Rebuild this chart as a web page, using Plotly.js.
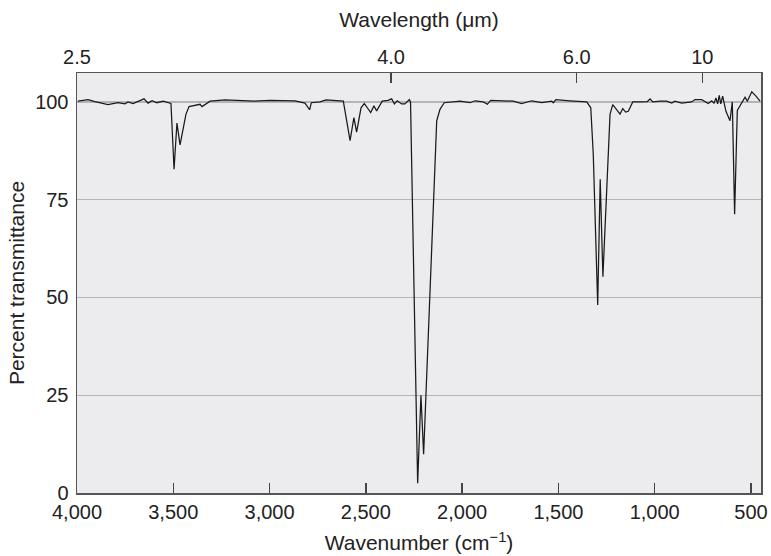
<!DOCTYPE html>
<html>
<head>
<meta charset="utf-8">
<script src="https://cdn.plot.ly/plotly-3.0.1.min.js"></script>
<style>
  html, body { margin: 0; padding: 0; background: #ffffff; }
  #chart { width: 771px; height: 556px; }
</style>
</head>
<body>
<div id="chart"></div>
<script>
// IR spectrum: wavenumber (cm^-1) vs percent transmittance
const wavenumber = [
  3995, 3943, 3907, 3839, 3787, 3751, 3735, 3709, 3652, 3631, 3610, 3585, 3553, 3517, 3512,
  3496, 3481, 3465, 3444, 3434, 3418, 3382, 3361, 3351, 3309, 3231, 3128, 3081, 2998, 2868,
  2816, 2792, 2783, 2738, 2707, 2617, 2582, 2562, 2548, 2525, 2508, 2475, 2458, 2444, 2415,
  2385, 2366, 2352, 2337, 2314, 2297, 2274, 2268, 2231, 2214, 2200, 2132, 2115, 2093, 2063,
  2011, 1959, 1933, 1890, 1869, 1852, 1786, 1734, 1691, 1639, 1587, 1535, 1527, 1513, 1440,
  1353, 1332, 1319, 1296, 1283, 1269, 1232, 1218, 1201, 1180, 1166, 1151, 1137, 1114, 1076,
  1038, 1024, 1010, 972, 938, 912, 895, 860, 834, 808, 791, 756, 722, 704, 692,
  682, 673, 665, 657, 647, 630, 609, 597, 585, 571, 553, 531, 519, 496, 474, 453
];
const transmittance = [
  100.2, 100.6, 100.1, 99.3, 99.8, 99.5, 100.0, 99.6, 100.8, 99.7, 100.3, 99.8, 100.2, 99.7, 99.6,
  82.8, 94.6, 89.0, 93.9, 96.9, 98.8, 99.1, 99.4, 98.8, 100.2, 100.5, 100.2, 100.2, 100.4, 100.3,
  99.7, 98.0, 99.8, 100.0, 100.5, 100.2, 90.1, 96.0, 92.3, 98.5, 99.6, 97.3, 99.0, 97.7, 100.2,
  100.4, 100.8, 99.5, 100.3, 99.5, 99.5, 100.6, 100.0, 2.5, 25.0, 9.9, 95.2, 98.1, 99.8, 100.0,
  100.2, 99.8, 100.3, 100.0, 99.4, 100.4, 100.2, 100.2, 99.6, 100.3, 99.8, 100.2, 99.8, 100.6, 100.3,
  100.0, 98.5, 86.6, 48.1, 80.2, 55.3, 96.8, 99.3, 98.3, 96.9, 98.3, 97.4, 97.6, 100.0, 100.0,
  100.1, 100.8, 100.0, 100.2, 100.2, 99.7, 100.2, 99.7, 99.9, 100.0, 100.6, 100.6, 99.6, 100.3, 99.7,
  101.0, 99.5, 101.7, 99.5, 101.5, 97.6, 95.2, 100.0, 71.3, 97.8, 99.5, 101.2, 100.2, 102.6, 101.5, 100.2
];

// bottom axis ticks (wavenumber)
const wavenumberTicks = [4000, 3500, 3000, 2500, 2000, 1500, 1000, 500];
const wavenumberLabels = ['4,000', '3,500', '3,000', '2,500', '2,000', '1,500', '1,000', '500'];

// top axis ticks (wavelength, placed on the wavenumber scale)
const wavelengthTickPos = [4000, 2369, 1405, 753];
const wavelengthLabels = ['2.5', '4.0', '6.0', '10'];

// left axis ticks
const percentTicks = [0, 25, 50, 75, 100];

const FONT = 'Liberation Sans, Arial, Helvetica, sans-serif';
const TEXT = '#222222';
const AXIS = '#555555';
const TICK_SIZE = 20;
const TITLE_SIZE = 21;

const traces = [
  {
    x: wavenumber,
    y: transmittance,
    type: 'scatter',
    mode: 'lines',
    line: { color: '#1a1a1a', width: 1.25 },
    hoverinfo: 'x+y',
    showlegend: false
  },
  {
    // carrier trace so the top wavelength axis is drawn
    x: [wavenumberTicks[0], wavenumberTicks[wavenumberTicks.length - 1]],
    y: [null, null],
    xaxis: 'x2',
    type: 'scatter',
    mode: 'lines',
    hoverinfo: 'skip',
    showlegend: false
  }
];

const layout = {
  width: 771,
  height: 556,
  margin: { l: 77, r: 10, t: 73, b: 63, pad: 0 },
  paper_bgcolor: '#ffffff',
  plot_bgcolor: '#ececee',
  font: { family: FONT, color: TEXT, size: TICK_SIZE },
  showlegend: false,
  xaxis: {
    range: [4000, 448],
    tickmode: 'array',
    tickvals: wavenumberTicks,
    ticktext: wavenumberLabels,
    ticks: 'inside',
    ticklen: 10,
    tickwidth: 1.5,
    tickcolor: '#444444',
    tickfont: { family: FONT, size: TICK_SIZE, color: TEXT },
    showline: true,
    linecolor: AXIS,
    linewidth: 1.5,
    showgrid: false,
    zeroline: false,
    automargin: false,
    title: {
      text: 'Wavenumber (cm<sup>−1</sup>)',
      font: { family: FONT, size: TITLE_SIZE, color: TEXT },
      standoff: 14
    }
  },
  xaxis2: {
    overlaying: 'x',
    side: 'top',
    range: [4000, 448],
    tickmode: 'array',
    tickvals: wavelengthTickPos,
    ticktext: wavelengthLabels,
    ticks: 'inside',
    ticklen: 10,
    tickwidth: 1.5,
    tickcolor: '#444444',
    tickfont: { family: FONT, size: TICK_SIZE, color: TEXT },
    showline: true,
    linecolor: AXIS,
    linewidth: 1.5,
    showgrid: false,
    zeroline: false,
    automargin: false,
    title: {
      text: 'Wavelength (μm)',
      font: { family: FONT, size: TITLE_SIZE, color: TEXT },
      standoff: 12
    }
  },
  yaxis: {
    range: [0, 107.4],
    tickmode: 'array',
    tickvals: percentTicks,
    ticks: '',
    ticklabelstandoff: 3,
    tickfont: { family: FONT, size: TICK_SIZE, color: TEXT },
    showline: true,
    mirror: true,
    linecolor: AXIS,
    linewidth: 1.5,
    showgrid: true,
    gridcolor: '#b4b4b4',
    gridwidth: 1.2,
    zeroline: false,
    automargin: false,
    title: {
      text: 'Percent transmittance',
      font: { family: FONT, size: TITLE_SIZE, color: TEXT },
      standoff: 5
    }
  }
};

Plotly.newPlot('chart', traces, layout, { displayModeBar: false, staticPlot: true });
</script>
</body>
</html>
